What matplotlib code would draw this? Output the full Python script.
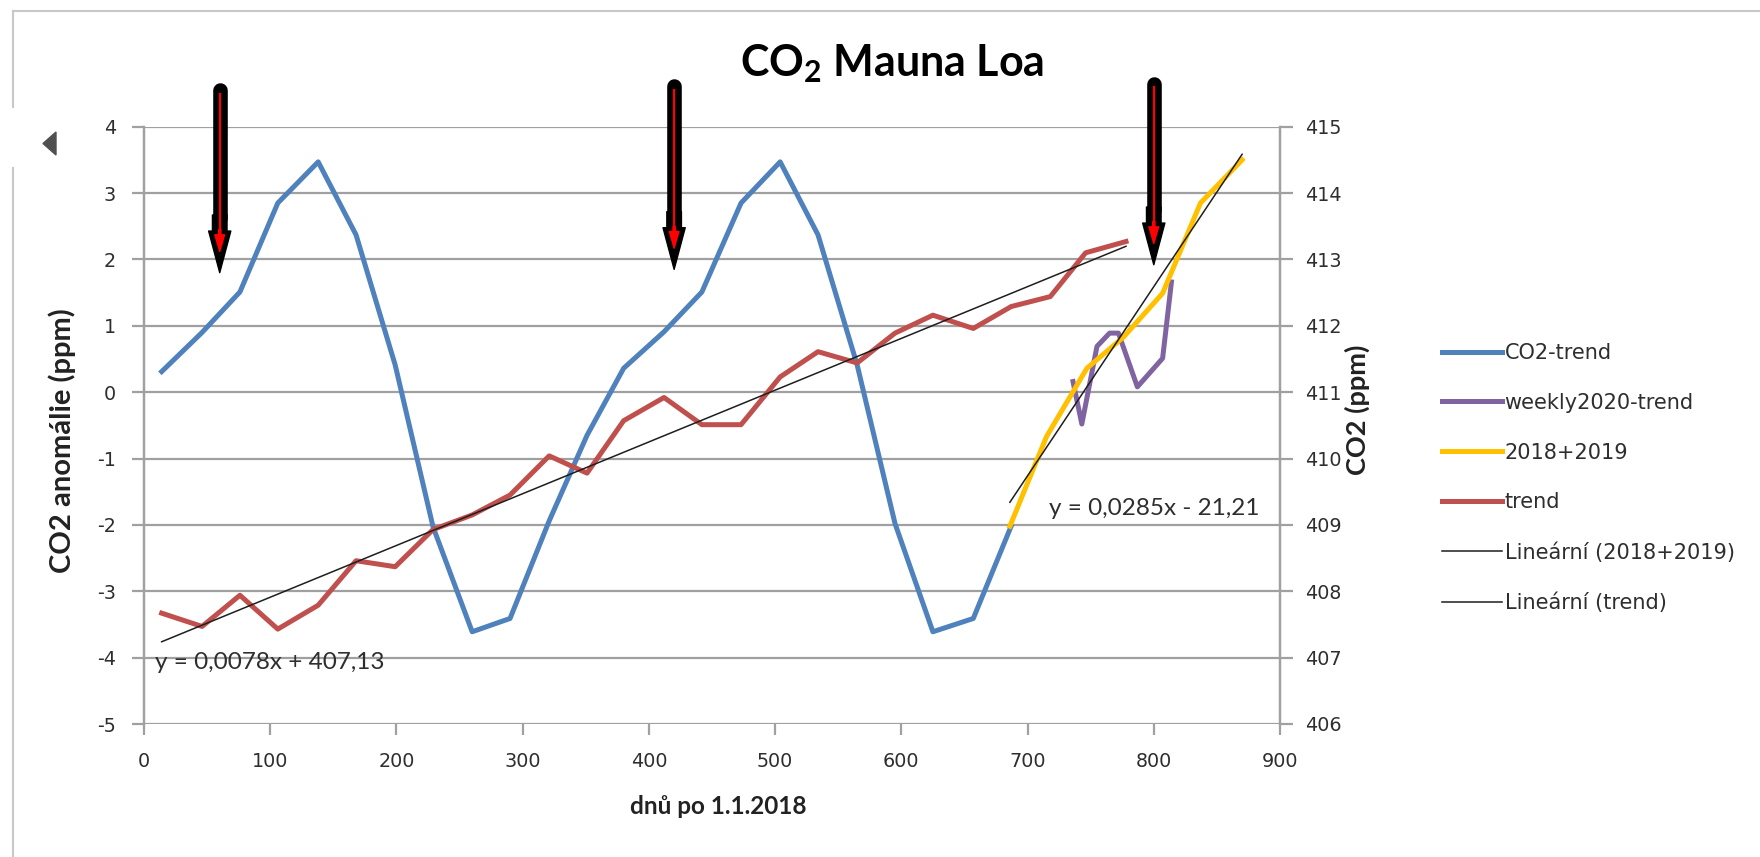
import matplotlib.pyplot as plt
from matplotlib.lines import Line2D
from matplotlib.patches import Polygon
import numpy as np

plt.rcParams['axes.unicode_minus'] = False

W, H = 1760, 857

# days after 1.1.2018 (monthly points)
days_month = [14, 46, 76, 106, 138, 168, 199, 229, 260, 290, 321, 351,
              380, 412, 442, 473, 504, 534, 565, 595, 625, 657, 687, 718,
              746, 778]
# CO2 minus trend (ppm), left axis
co2_anom = [0.31, 0.90, 1.51, 2.85, 3.47, 2.37, 0.41, -2.03, -3.61, -3.41, -1.94, -0.65,
            0.36, 0.91, 1.51, 2.85, 3.47, 2.37, 0.41, -1.98, -3.61, -3.41, -2.02]
# trend (ppm), right axis
trend_ppm = [407.67, 407.47, 407.94, 407.43, 407.79, 408.46, 408.37, 408.93, 409.15, 409.45,
             410.04, 409.78, 410.57, 410.92, 410.51, 410.51, 411.23, 411.61, 411.44, 411.89,
             412.16, 411.96, 412.29, 412.44, 413.10, 413.27]

# weekly 2020 data minus trend
days_week = [736, 743, 755, 765, 772, 787, 807, 814]
weekly_anom = [0.16, -0.48, 0.69, 0.89, 0.89, 0.08, 0.51, 1.66]

# seasonal cycle 2018+2019 carried into 2020
days_1819 = [686, 715, 747, 776, 807, 837, 870]
cycle_1819 = [-2.02, -0.67, 0.36, 0.83, 1.49, 2.85, 3.50]

# linear trendlines (as printed on the chart)
trend_fit = (0.0078, 407.13)
cycle_fit = (0.0285, -21.21)

# arrows: x, top, tip (left axis units)
arrows = [(60, 4.55, 1.80), (420, 4.61, 1.85), (800, 4.65, 1.92)]

BLUE = '#4f81bd'
RED = '#c0504d'
PURPLE = '#8064a2'
YELLOW = '#ffc000'
GRID = '#a0a0a0'
TXT = '#2e2e2e'

fig = plt.figure(figsize=(W / 100, H / 100), dpi=100)
ax = fig.add_axes([144 / W, 1 - 724 / H, (1280 - 144) / W, (724 - 126.7) / H])
ax2 = ax.twinx()

ax.set_xlim(0, 900)
ax.set_ylim(-5, 4)
ax2.set_ylim(406, 415)
ax.set_xticks(range(0, 901, 100))
ax.set_yticks(range(-5, 5))
ax2.set_yticks(range(406, 416))

ax.yaxis.grid(True, color=GRID, lw=1.6)
ax.set_axisbelow(True)
for a in (ax, ax2):
    for s in a.spines.values():
        s.set_color(GRID)
        s.set_linewidth(1.6)
    a.spines['top'].set_visible(False)
ax.spines['bottom'].set_visible(False)
ax2.spines['bottom'].set_visible(False)

tick_kw = dict(direction='out', width=1.6, color=GRID, labelsize=13.8, labelcolor=TXT)
ax.tick_params(axis='y', length=9, pad=11, **tick_kw)
ax.tick_params(axis='x', length=8, pad=12, **tick_kw)
ax2.tick_params(axis='y', length=9, pad=9, **tick_kw)

x_blue = days_month[:len(co2_anom)]
l_blue, = ax.plot(x_blue, co2_anom, color=BLUE, lw=3.6, label='CO2-trend')
l_purple, = ax.plot(days_week, weekly_anom, color=PURPLE, lw=3.6,
                    label='weekly2020-trend')
l_yellow, = ax.plot(days_1819, cycle_1819, color=YELLOW, lw=3.6, label='2018+2019')
xc = np.array([days_1819[0], days_1819[-1]])
l_lin1, = ax.plot(xc, cycle_fit[0] * xc + cycle_fit[1], color='#1e1e1e', lw=1.1,
                  label='Lineární (2018+2019)')

x_red = days_month[:len(trend_ppm)]
l_red, = ax2.plot(x_red, trend_ppm, color=RED, lw=3.6, label='trend')
xt = np.array([x_red[0], x_red[-1]])
l_lin2, = ax2.plot(xt, trend_fit[0] * xt + trend_fit[1], color='#1e1e1e', lw=1.1,
                   label='Lineární (trend)')

# trendline equations
eq_font = dict(family='Lato', fontsize=17.5, color=TXT)
ax.text(9, -4.08, 'y = 0,0078x + 407,13', va='center', ha='left', **eq_font)
ax.text(717, -1.75, 'y = 0,0285x - 21,21', va='center', ha='left', **eq_font)

# arrows
for ax_x, y_top, y_tip in arrows:
    y_head = y_tip + 0.72
    ax.plot([ax_x, ax_x], [y_top, y_head + 0.1], color='black', lw=10.5,
            solid_capstyle='round', clip_on=False, zorder=6)
    ax.annotate('', xy=(ax_x, y_tip), xytext=(ax_x, y_head + 0.15),
                arrowprops=dict(arrowstyle='simple,head_length=30,head_width=16,tail_width=10.5',
                                mutation_scale=1, color='black', shrinkA=0, shrinkB=0),
                annotation_clip=False, zorder=6)
    ax.plot([ax_x, ax_x], [y_top - 0.05, y_tip + 0.6], color='red', lw=1.6,
            clip_on=False, zorder=7)
    ax.annotate('', xy=(ax_x, y_tip + 0.32), xytext=(ax_x, y_tip + 0.65),
                arrowprops=dict(arrowstyle='simple,head_length=12,head_width=7,tail_width=1.6',
                                mutation_scale=1, color='red', shrinkA=0, shrinkB=0),
                annotation_clip=False, zorder=7)

# labels
lab_font = dict(family='Lato', fontweight='bold', color='#222222')
fig.text(892 / W, 1 - 64 / H, 'CO$_\\mathregular{2}$ Mauna Loa', ha='center', va='center',
         family='Lato', fontweight='bold', fontsize=31, color='black')
fig.text(718 / W, 1 - 806 / H, 'dnů po 1.1.2018', ha='center', va='center',
         fontsize=17.5, **lab_font)
fig.text(62 / W, 1 - 441 / H, 'CO2 anomálie (ppm)', ha='center', va='center',
         rotation=90, fontsize=21, **lab_font)
fig.text(1357 / W, 1 - 410 / H, 'CO2 (ppm)', ha='center', va='center',
         rotation=90, fontsize=19.5, **lab_font)

handles = [l_blue, l_purple, l_yellow, l_red, l_lin1, l_lin2]
leg = fig.legend(handles, [h.get_label() for h in handles], loc='upper left',
                 bbox_to_anchor=(1442 / W, 1 - 343 / H), frameon=False,
                 fontsize=15, handlelength=2.9, handletextpad=0.1,
                 labelspacing=1.43, borderpad=0, borderaxespad=0)
for t in leg.get_texts():
    t.set_color(TXT)

# window frame
fr = '#c8c8c8'
fig.add_artist(Line2D([13 / W, 1], [1 - 11 / H, 1 - 11 / H], color=fr, lw=1.5))
fig.add_artist(Line2D([13 / W, 13 / W], [1 - 11 / H, 1 - 107 / H], color=fr, lw=1.5))
fig.add_artist(Line2D([13 / W, 13 / W], [1 - 168 / H, 0], color=fr, lw=1.5))
fig.add_artist(Polygon([[43 / W, 1 - 143.5 / H], [56 / W, 1 - 132 / H], [56 / W, 1 - 155 / H]],
                       closed=True, color='#505050', transform=fig.transFigure))

fig.savefig('out.png', dpi=100)
